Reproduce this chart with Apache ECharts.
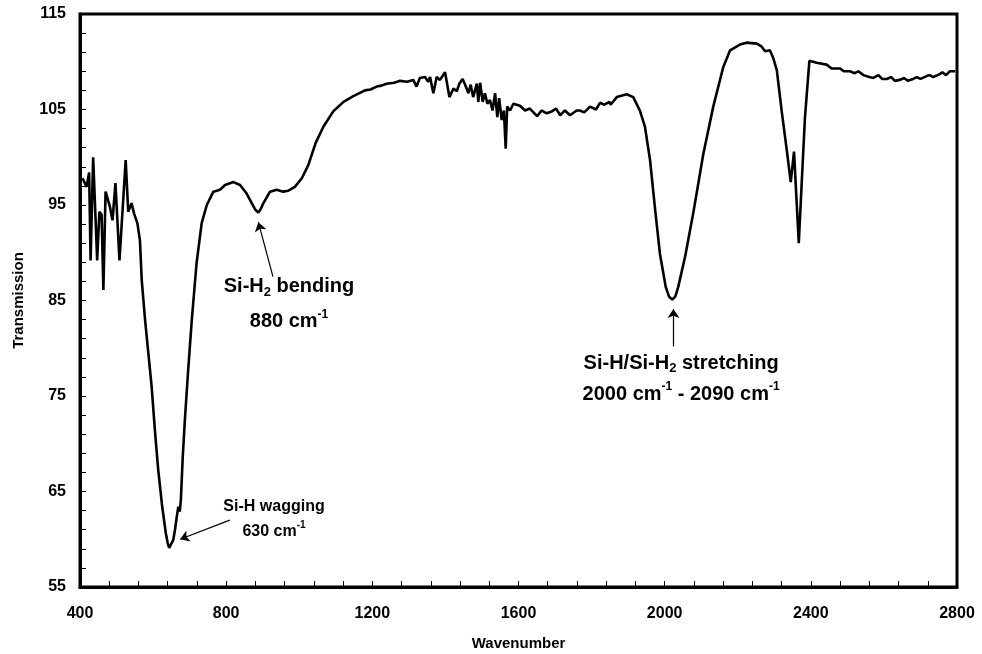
<!DOCTYPE html>
<html>
<head>
<meta charset="utf-8">
<script src="https://cdn.jsdelivr.net/npm/echarts@6/dist/echarts.min.js"></script>
<style>
  html, body { margin: 0; padding: 0; background: #fff; }
  #main { width: 982px; height: 654px; }
</style>
</head>
<body>
<div id="main"></div>
<script>
// FTIR spectrum
var wavenumber = [
  407, 418, 425, 429, 436, 447, 453, 459, 464, 470, 482, 489, 497, 508, 525, 532, 541, 548, 557, 564,
  569, 578, 587, 596, 605, 614, 625, 635, 640, 644, 649, 655, 660, 665, 669, 673, 676, 681, 687, 696, 706, 719, 733,
  747, 765, 783, 797, 820, 838, 856, 870, 880, 888, 895, 902, 920, 938, 956, 970, 988, 1007, 1025, 1045, 1066, 1093,
  1121, 1148, 1180, 1195, 1212, 1225, 1239, 1260, 1276, 1295, 1312, 1321, 1330, 1344, 1353, 1358, 1367, 1376, 1385, 1399,
  1404, 1411, 1422, 1431, 1438, 1447, 1454, 1463, 1469, 1476, 1486, 1490, 1495, 1502, 1508, 1515, 1522, 1529, 1536, 1542,
  1547, 1554, 1560, 1565, 1569, 1577, 1586, 1604, 1618, 1631, 1651, 1663, 1677, 1691, 1703, 1714, 1727, 1741, 1759, 1768,
  1780, 1796, 1812, 1823, 1835, 1849, 1852, 1869, 1896, 1914, 1932, 1946, 1960, 1974, 1987, 2003, 2012, 2021, 2029, 2037, 2056, 2078,
  2106, 2133, 2160, 2179, 2206, 2224, 2252, 2265, 2275, 2288, 2297, 2307, 2320, 2334, 2345, 2354, 2359, 2367, 2375, 2384,
  2396, 2416, 2443, 2457, 2480, 2490, 2507, 2520, 2530, 2544, 2560, 2571, 2585, 2595, 2608, 2620, 2630, 2644, 2655, 2665,
  2680, 2690, 2700, 2717, 2725, 2735, 2753, 2760, 2770, 2780, 2795
]
var transmission = [
  97.8, 96.9, 98.4, 89.2, 100.0, 89.2, 94.3, 94.0, 86.1, 96.4, 94.8, 93.4, 97.3, 89.2, 99.7, 94.3, 95.2, 94.1, 93.1, 91.3,
  87.1, 83.0, 79.5, 76.0, 71.4, 67.3, 63.4, 60.6, 59.6, 59.1, 59.2, 59.9, 61.0, 62.4, 63.4, 62.9, 64.1, 68.5, 72.5, 77.7, 83.0, 88.9, 93.1,
  95.0, 96.4, 96.6, 97.1, 97.4, 97.1, 96.2, 95.2, 94.5, 94.2, 94.6, 95.2, 96.4, 96.6, 96.4, 96.5, 96.9, 97.8, 99.2, 101.5, 103.2, 104.8,
  105.8, 106.4, 107.0, 107.1, 107.4, 107.5, 107.7, 107.8, 108.0, 107.9, 108.1, 107.4, 108.3, 108.4, 107.9, 108.4, 106.7, 108.4, 108.1, 108.9,
  108.9, 106.3, 107.2, 106.9, 107.7, 108.2, 107.6, 106.7, 107.6, 106.3, 107.7, 105.8, 107.8, 105.8, 106.7, 105.6, 106.0, 104.9, 106.7, 104.2,
  106.2, 103.9, 104.9, 100.9, 105.3, 104.9, 105.6, 105.4, 104.9, 105.1, 104.3, 104.9, 104.6, 104.8, 105.1, 104.4, 104.9, 104.4, 104.9, 104.9,
  104.7, 105.3, 105.0, 105.7, 105.5, 105.8, 105.5, 106.3, 106.6, 106.3, 104.9, 103.2, 99.7, 94.5, 89.9, 86.4, 85.4, 85.1, 85.4, 86.4, 89.6, 94.1,
  100.4, 105.3, 109.4, 111.2, 111.8, 112.0, 111.9, 111.6, 111.1, 111.2, 110.4, 109.1, 104.9, 100.8, 97.4, 100.6, 96.9, 91.0, 97.3, 104.2,
  110.1, 109.9, 109.7, 109.3, 109.3, 109.0, 109.0, 108.8, 109.0, 108.6, 108.4, 108.3, 108.6, 108.2, 108.2, 108.4, 108.0, 108.1, 108.3, 108.0,
  108.2, 108.4, 108.2, 108.5, 108.6, 108.4, 108.7, 108.9, 108.6, 109.0, 109.0
]

// axis ticks
var xTicks = [400, 800, 1200, 1600, 2000, 2400, 2800]
var yTicks = [55, 65, 75, 85, 95, 105, 115]

// annotations: [wavenumber, transmission] of text centre; arrows tail -> head
var notes = [
  { text: '{s|Si-H wagging}\n{s|630 cm}{ssup|-1}', at: [931, 62.1] },
  { text: '{a|Si-H}{sub|2}{a| bending}\n{a|880 cm}{sup|-1}', at: [972, 84.6] },
  { text: '{b|Si-H/Si-H}{sub|2}{b| stretching}\n{b|2000 cm}{sup|-1}{b| - 2090 cm}{sup|-1}', at: [2045, 76.8] }
]
var arrows = [
  [[810, 62.0], [674, 60.0]],
  [[928, 87.5], [888, 93.2]],
  [[2024, 80.2], [2024, 84.1]]
]

var yBase = yTicks[0]
var font = 'Liberation Sans, Arial, sans-serif'

var chart = echarts.init(document.getElementById('main'), null, { renderer: 'canvas' })

var points = wavenumber.map(function (w, i) { return [w, transmission[i] - yBase] })

var option = {
  animation: false,
  backgroundColor: '#fff',
  grid: {
    left: 80, right: 25, top: 14, bottom: 67,
    outerBoundsMode: 'none',
    containLabel: false,
    show: true, borderColor: '#000', borderWidth: 3
  },
  xAxis: {
    type: 'value',
    min: xTicks[0], max: xTicks[xTicks.length - 1], interval: 400,
    name: 'Wavenumber', nameLocation: 'middle', nameGap: 49,
    nameTextStyle: { fontFamily: font, fontWeight: 'bold', fontSize: 15, color: '#000' },
    axisLine: { lineStyle: { color: '#000', width: 3 } },
    axisTick: { inside: true, length: 6, lineStyle: { color: '#000', width: 1 } },
    minorTick: { show: true, splitNumber: 5, length: 6, lineStyle: { color: '#000', width: 1 } },
    axisLabel: {
      margin: 19, fontFamily: font, fontWeight: 'bold', fontSize: 16, color: '#000',
      formatter: function (v) { return String(v) }
    },
    splitLine: { show: false }
  },
  yAxis: {
    type: 'value',
    min: 0, max: yTicks[yTicks.length - 1] - yBase, interval: 10,
    name: 'Transmission', nameLocation: 'middle', nameGap: 54, nameRotate: 90,
    nameTextStyle: { fontFamily: font, fontWeight: 'bold', fontSize: 15, color: '#000' },
    axisLine: { show: true, lineStyle: { color: '#000', width: 3 } },
    axisTick: { show: true, inside: true, length: 6, lineStyle: { color: '#000', width: 1 } },
    minorTick: { show: true, splitNumber: 5, length: 6, lineStyle: { color: '#000', width: 1 } },
    axisLabel: {
      margin: 14, fontFamily: font, fontWeight: 'bold', fontSize: 16, color: '#000',
      formatter: function (v) { return String(v + yBase) }
    },
    splitLine: { show: false }
  },
  series: [{
    type: 'line',
    data: points,
    showSymbol: false,
    lineStyle: { color: '#000', width: 2.6 },
    markPoint: {
      silent: true,
      symbol: 'circle',
      symbolSize: 1,
      itemStyle: { color: 'rgba(0,0,0,0)' },
      label: {
        show: true, position: 'inside', align: 'center', color: '#000',
        fontFamily: font, fontWeight: 'bold',
        rich: {
          s: { fontSize: 16, lineHeight: 25, fontWeight: 'bold', fontFamily: font, color: '#000' },
          ssup: { fontSize: 10, lineHeight: 25, fontWeight: 'bold', fontFamily: font, color: '#000', padding: [0, 0, 12, 0] },
          a: { fontSize: 20, lineHeight: 35, fontWeight: 'bold', fontFamily: font, color: '#000' },
          b: { fontSize: 20, lineHeight: 31, fontWeight: 'bold', fontFamily: font, color: '#000' },
          sup: { fontSize: 12, fontWeight: 'bold', fontFamily: font, color: '#000', padding: [0, 0, 15, 0] },
          sub: { fontSize: 13, fontWeight: 'bold', fontFamily: font, color: '#000', padding: [11, 0, 0, 0] }
        }
      },
      data: notes.map(function (n) {
        return { coord: [n.at[0], n.at[1] - yBase], label: { formatter: n.text } }
      })
    },
    markLine: {
      silent: true,
      symbol: ['none', 'arrow'],
      symbolSize: 9,
      label: { show: false },
      lineStyle: { color: '#000', width: 1.2, type: 'solid' },
      data: arrows.map(function (a) {
        return [{ coord: [a[0][0], a[0][1] - yBase] }, { coord: [a[1][0], a[1][1] - yBase] }]
      })
    }
  }]
}

chart.setOption(option)
</script>
</body>
</html>
